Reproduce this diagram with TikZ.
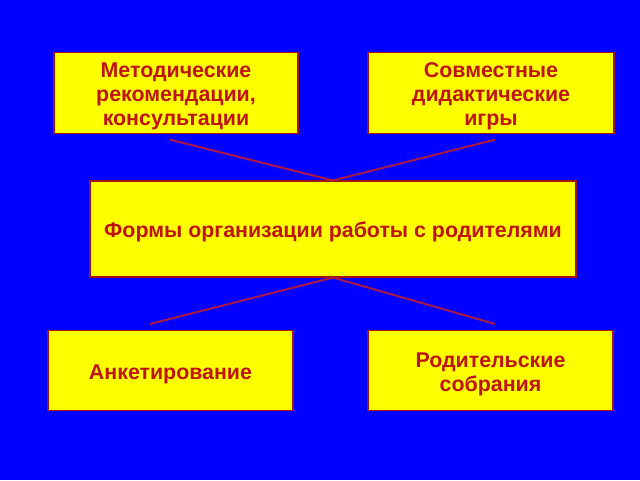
\documentclass[tikz,border=0pt]{standalone}
\usepackage{fontspec}
\setmainfont{Liberation Sans}
\usetikzlibrary{positioning}

\definecolor{fon}{RGB}{0,0,255}
\definecolor{zhelt}{RGB}{255,255,0}
\definecolor{ramka}{RGB}{160,20,20}
\definecolor{tekst}{RGB}{190,20,10}
\definecolor{liniya}{RGB}{170,25,70}

% lines of a box, first line pushed a little down
\newcommand\stroki[1]{\begin{tabular}{@{}c@{}}\rule{0pt}{17.5pt}#1\end{tabular}}

\tikzset{
  blok/.style={draw=ramka, fill=zhelt, line width=0.8pt, text=tekst,
    font=\bfseries\fontsize{15.2}{17.2}\selectfont, inner sep=0pt},
  svyaz/.style={draw=liniya, line width=1.4pt}
}

\begin{document}
\begin{tikzpicture}
\fill[fon] (0,0) rectangle (16,12);

\node(forms)  [blok, minimum width=12.15cm, minimum height=2.4cm] at (8.325,6.275) {\stroki{Формы организации работы с родителями}};
\node(metod)  [blok, minimum width=6.1cm,   minimum height=2cm]   at (4.4,9.675)   {\stroki{Методические\\рекомендации,\\консультации}};
\node(sovm)   [blok, minimum width=6.15cm,  minimum height=2cm]   at (12.275,9.675) {\stroki{Совместные\\дидактические\\игры}};
\node(anket)  [blok, minimum width=6.125cm, minimum height=2cm]   at (4.2625,2.7375) {\stroki{Анкетирование}};
\node(rodit)  [blok, minimum width=6.125cm, minimum height=2cm]   at (12.2625,2.7375) {\stroki{Родительские\\собрания}};

\draw[svyaz]    ([shift={(-0.15,-0.15)}]metod.south) -- (forms.north);
\draw[svyaz]    ([shift={(0.1,-0.15)}]sovm.south)    -- (forms.north);
\draw[svyaz]    (forms.south) -- ([shift={(-0.51,0.15)}]anket.north);
\draw[svyaz]    (forms.south) -- ([shift={(0.11,0.15)}]rodit.north);
\end{tikzpicture}
\end{document}
